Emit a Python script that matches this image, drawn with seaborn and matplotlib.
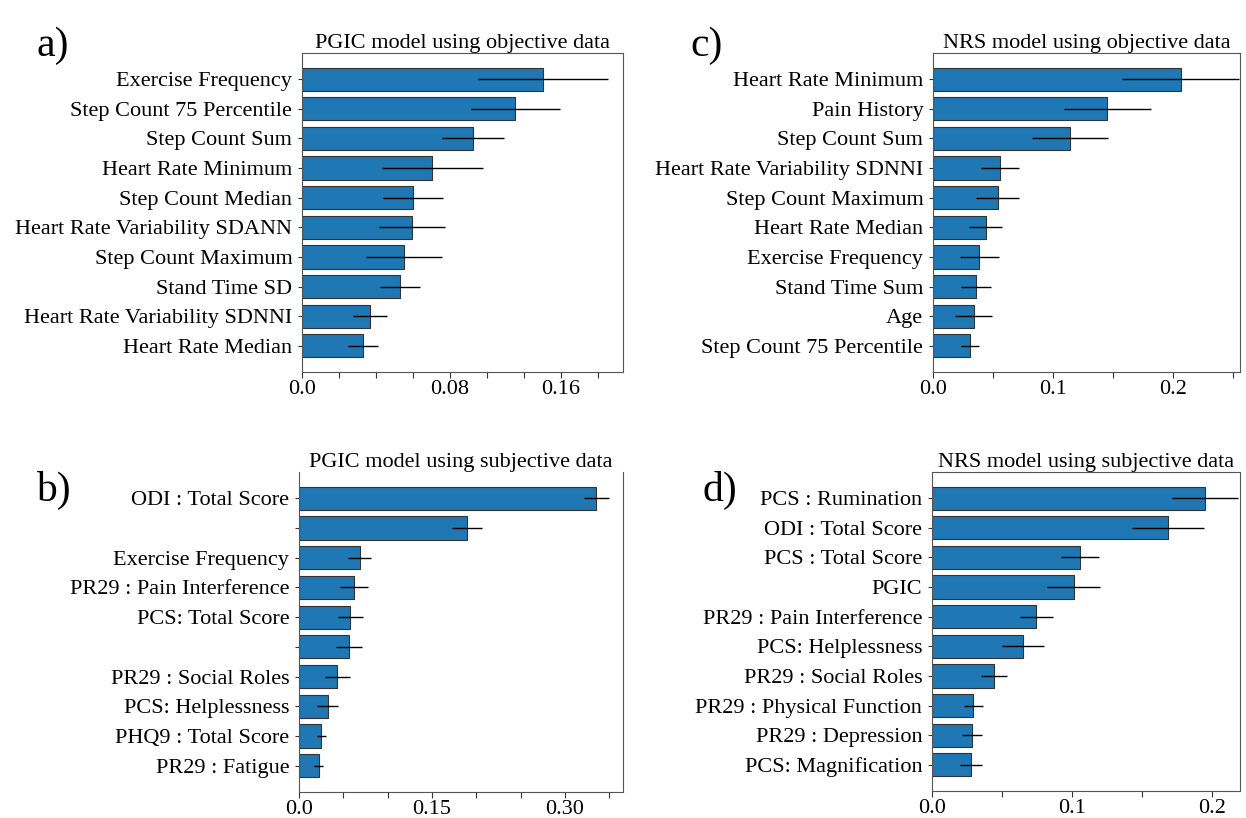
import numpy as np
import pandas as pd
import matplotlib
matplotlib.use('Agg')
import matplotlib.pyplot as plt
import seaborn as sns

sns.set_style('ticks')
plt.rcParams['font.family'] = ['Liberation Serif', 'DejaVu Serif']
plt.rcParams['text.color'] = 'black'
plt.rcParams['xtick.color'] = '#333333'
plt.rcParams['ytick.color'] = '#333333'
plt.rcParams['xtick.labelcolor'] = 'black'
plt.rcParams['ytick.labelcolor'] = 'black'

# a) PGIC model using objective data
a_labels = ['Exercise Frequency', 'Step Count 75 Percentile', 'Step Count Sum',
            'Heart Rate Minimum', 'Step Count Median', 'Heart Rate Variability SDANN',
            'Step Count Maximum', 'Stand Time SD', 'Heart Rate Variability SDNNI',
            'Heart Rate Median']
a_values = [0.1303, 0.1153, 0.0926, 0.0705, 0.0600, 0.0596, 0.0551, 0.0530, 0.0366, 0.0328]
a_errors = [0.0353, 0.0240, 0.0167, 0.0272, 0.0164, 0.0179, 0.0205, 0.0109, 0.0091, 0.0082]

# b) PGIC model using subjective data (two labels are blank in the original)
b_labels = ['ODI : Total Score', ' ', 'Exercise Frequency', 'PR29 : Pain Interference',
            'PCS: Total Score', '  ', 'PR29 : Social Roles', 'PCS: Helplessness',
            'PHQ9 : Total Score', 'PR29 : Fatigue']
b_values = [0.3350, 0.1895, 0.0684, 0.0620, 0.0579, 0.0560, 0.0432, 0.0323, 0.0252, 0.0222]
b_errors = [0.0141, 0.0169, 0.0126, 0.0154, 0.0141, 0.0148, 0.0141, 0.0115, 0.0049, 0.0049]

# c) NRS model using objective data
c_labels = ['Heart Rate Minimum', 'Pain History', 'Step Count Sum',
            'Heart Rate Variability SDNNI', 'Step Count Maximum', 'Heart Rate Median',
            'Exercise Frequency', 'Stand Time Sum', 'Age', 'Step Count 75 Percentile']
c_values = [0.2064, 0.1453, 0.1144, 0.0561, 0.0539, 0.0439, 0.0386, 0.0358, 0.0339, 0.0308]
c_errors = [0.0485, 0.0361, 0.0319, 0.0158, 0.0180, 0.0138, 0.0161, 0.0125, 0.0154, 0.0074]

# d) NRS model using subjective data
d_labels = ['PCS : Rumination', 'ODI : Total Score', 'PCS : Total Score', 'PGIC',
            'PR29 : Pain Interference', 'PCS: Helplessness', 'PR29 : Social Roles',
            'PR29 : Physical Function', 'PR29 : Depression', 'PCS: Magnification']
d_values = [0.1948, 0.1686, 0.1057, 0.1012, 0.0745, 0.0652, 0.0445, 0.0293, 0.0286, 0.0276]
d_errors = [0.0237, 0.0255, 0.0139, 0.0188, 0.0117, 0.0150, 0.0092, 0.0068, 0.0070, 0.0079]

# tick marks and (odd) tick labels as printed in the original figure
a_ticks = [0.0, 0.02, 0.04, 0.06, 0.08, 0.10, 0.12, 0.14, 0.16]
a_tick_labels = ['0.0', '', '', '', '0.08', '', '', '0.16', '']
b_ticks = [0.0, 0.05, 0.10, 0.15, 0.20, 0.25, 0.30, 0.35]
b_tick_labels = ['0.0', '', '', '0.15', '', '', '0.30', '']
c_ticks = [0.0, 0.05, 0.10, 0.15, 0.20, 0.25]
c_tick_labels = ['0.0', '', '0.1', '', '0.2', '']
d_ticks = [0.0, 0.05, 0.10, 0.15, 0.20]
d_tick_labels = ['0.0', '', '0.1', '', '0.2']

panels = [
    ('a)', 'PGIC model using objective data', a_labels, a_values, a_errors,
     a_ticks, a_tick_labels, 0.1735, [302, 53, 623, 372], (36, 46)),
    ('b)', 'PGIC model using subjective data', b_labels, b_values, b_errors,
     b_ticks, b_tick_labels, 0.3654, [299, 472, 623, 792], (36, 490)),
    ('c)', 'NRS model using objective data', c_labels, c_values, c_errors,
     c_ticks, c_tick_labels, 0.256, [933, 53, 1240, 372], (690, 46)),
    ('d)', 'NRS model using subjective data', d_labels, d_values, d_errors,
     d_ticks, d_tick_labels, 0.22, [932, 472, 1240, 791], (703, 490)),
]

W, H = 1246, 818
fig = plt.figure(figsize=(W / 100, H / 100), dpi=100)

for tag, title, labels, values, errors, ticks, tick_labels, xmax, box, tagpos in panels:
    l, t, r, b = box
    ax = fig.add_axes([l / W, 1 - b / H, (r - l) / W, (b - t) / H])
    df = pd.DataFrame({'Feature': labels, 'Importance': values})
    sns.barplot(data=df, x='Importance', y='Feature', order=labels, color='#1f77b4',
                saturation=1, errorbar=None, width=0.78, edgecolor='#333333',
                linewidth=0.8, ax=ax)
    ax.errorbar(values, np.arange(len(values)), xerr=errors, fmt='none',
                ecolor='black', elinewidth=1.0, capsize=0)
    ax.set_xlim(0, xmax)
    ax.set_ylim(len(values) - 1 + 0.88, -0.88)
    ax.set_xticks(ticks)
    ax.set_xticklabels(tick_labels, fontsize=16)
    ax.tick_params(axis='y', labelsize=16, length=3, pad=4)
    ax.tick_params(axis='x', length=4, pad=1.5)
    ax.set_xlabel('')
    ax.set_ylabel('')
    ax.set_title(title, fontsize=16, pad=3, color='black')
    for s in ax.spines.values():
        s.set_color('#555555')
        s.set_linewidth(0.8)
    if tag == 'b)':
        ax.spines['top'].set_visible(False)
    fig.text(tagpos[0] / W, 1 - tagpos[1] / H, tag, fontsize=30, va='center', ha='left')

plt.savefig('out.png', dpi=100)
